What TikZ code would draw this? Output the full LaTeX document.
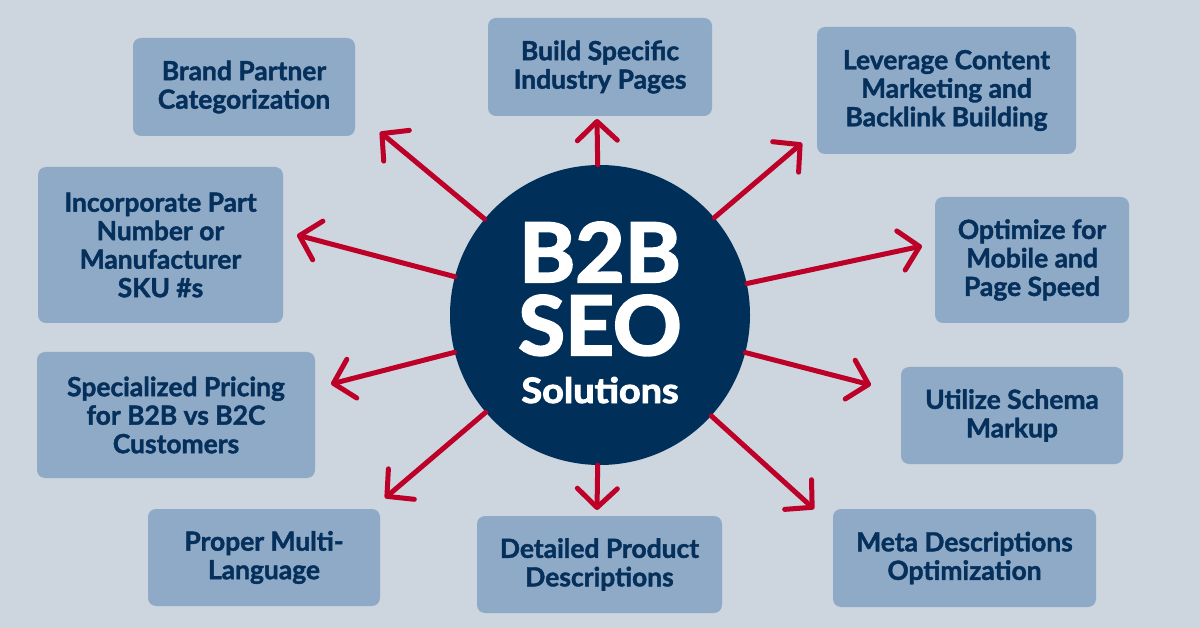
\documentclass[tikz,border=0pt]{standalone}
\usepackage{fontspec}
\setmainfont{Lato}[BoldFeatures={FakeBold=1.6}]
\newfontfamily\circfont{Lato}[BoldFeatures={FakeBold=2.6}]
\usetikzlibrary{arrows.meta}
\definecolor{bgc}{HTML}{CDD5DF}
\definecolor{boxc}{HTML}{8FAAC6}
\definecolor{navyt}{HTML}{05305C}
\definecolor{navyc}{HTML}{002F5A}
\definecolor{redc}{HTML}{BC0027}
\begin{document}
\begin{tikzpicture}[x=1pt,y=-1pt,
  box/.style={fill=boxc, draw=none, rounded corners=8pt, inner sep=0pt, align=center,
    text=navyt, font=\bfseries\fontsize{26.4}{28.5}\selectfont},
  arr/.style={draw=redc, line width=5pt, line cap=round,
    -{Straight Barb[length=19pt,width=40pt,round]}},
  big/.style={text=white, font=\circfont\bfseries\fontsize{82}{82}\selectfont, inner sep=0pt,
    anchor=base, text depth=0pt, text height=58pt},
  small/.style={text=white, font=\circfont\bfseries\fontsize{35}{35}\selectfont, inner sep=0pt,
    anchor=base}]
\fill[bgc] (0,0) rectangle (1200,628);
\useasboundingbox (0,0) rectangle (1200,628);

% boxes
\node[box, minimum width=222pt, minimum height=98pt] (b1) at (244,87) {Brand Partner\\Categorization};
\node[box, minimum width=224pt, minimum height=98pt] (b2) at (600,67) {Build Specific\\Industry Pages};
\node[box, minimum width=259pt, minimum height=127pt] (b3) at (946.5,90.5) {Leverage Content\\Marketing and\\Backlink Building};
\node[box, minimum width=194pt, minimum height=126pt] (b4) at (1032,260) {Optimize for\\Mobile and\\Page Speed};
\node[box, minimum width=222pt, minimum height=97pt] (b5) at (1012,415.5) {Utilize Schema\\Markup};
\node[box, minimum width=263pt, minimum height=98pt] (b6) at (964.5,558) {Meta Descriptions\\Optimization};
\node[box, minimum width=245pt, minimum height=97pt] (b7) at (599.5,564.5) {Detailed Product\\Descriptions};
\node[box, minimum width=232pt, minimum height=97pt] (b8) at (264,557.5) {Proper Multi-\\Language};
\node[box, minimum width=278pt, minimum height=126pt] (b9) at (176,415) {Specialized Pricing\\for B2B vs B2C\\Customers};
\node[box, minimum width=245pt, minimum height=156pt] (b10) at (160.5,245) {Incorporate Part\\Number or\\Manufacturer\\SKU \#s};

% centre circle
\node[circle, fill=navyc, minimum size=300pt, inner sep=0pt] (c) at (600,315) {};

% arrow tips
\coordinate (t1) at (380,132);
\coordinate (t2) at (597,119);
\coordinate (t3) at (802,143);
\coordinate (t4) at (922,246);
\coordinate (t5) at (871,385);
\coordinate (t6) at (814,509);
\coordinate (t7) at (597,510);
\coordinate (t8) at (385,498);
\coordinate (t9) at (331,384);
\coordinate (t10) at (297,235);

\foreach \i in {1,...,10} {\draw[arr] (c) -- (t\i);}

% circle text
\node[big] (l1) at (600,282) {\scalebox{1.04}[1]{B2B}};
\node[big] (l2) at (600,355) {\scalebox{1.04}[1]{SEO}};
\node[small] (l3) at (600,403) {\scalebox{1.08}[1]{Solutions}};
\end{tikzpicture}
\end{document}
